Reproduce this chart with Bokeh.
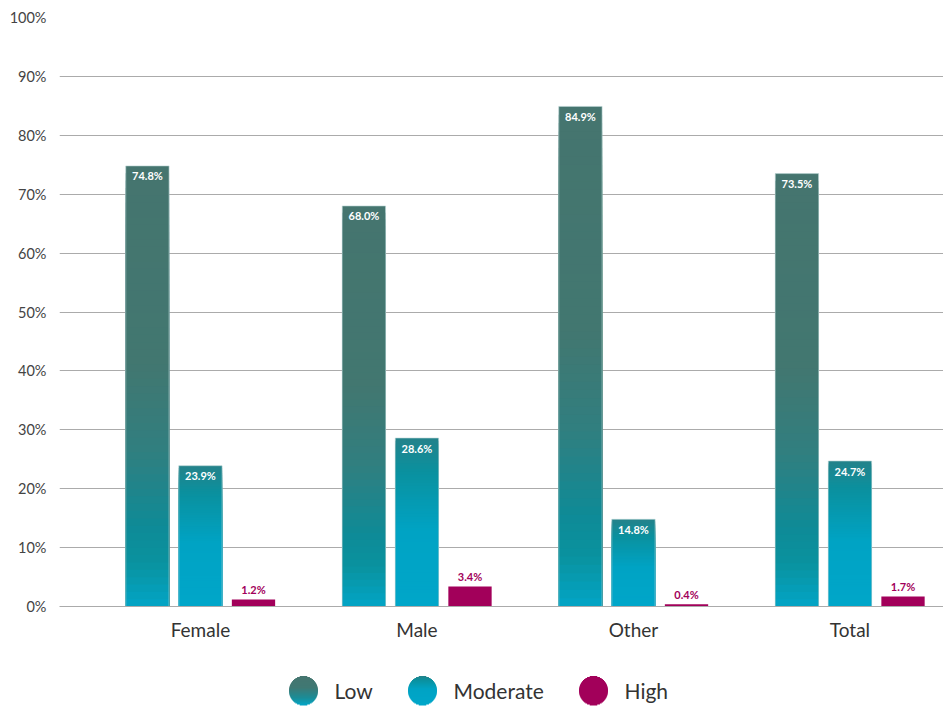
import math
from bokeh.plotting import figure
from bokeh.layouts import column
from bokeh.models import Range1d, FixedTicker, ColumnDataSource
from bokeh.core.properties import value
from bokeh.embed import file_html
from bokeh.resources import INLINE

# ---- data -------------------------------------------------------------
categories = ["Female", "Male", "Other", "Total"]
low = [74.8, 68.0, 84.9, 73.5]
moderate = [23.9, 28.6, 14.8, 24.7]
high = [1.2, 3.4, 0.4, 1.7]
series_names = ["Low", "Moderate", "High"]
y_ticks = [0, 10, 20, 30, 40, 50, 60, 70, 80, 90, 100]

FONT = "Lato"

# gradient stops (fraction of bar height from bottom, colour)
LOW_STOPS = [(0.0, "#02A5C6"), (0.10, "#0A929F"), (0.18, "#0E8B97"),
             (0.35, "#307F80"), (0.55, "#427770"), (1.0, "#45756F")]
MOD_STOPS = [(0.0, "#00A6C9"), (0.45, "#00A3C4"), (0.80, "#0A919F"),
             (1.0, "#24828A")]
HIGH_STOPS = [(0.0, "#A2005A"), (1.0, "#A2005A")]


def hex2rgb(h):
    h = h.lstrip("#")
    return tuple(int(h[i:i + 2], 16) for i in (0, 2, 4))


def interp(stops, t):
    for (t0, c0), (t1, c1) in zip(stops, stops[1:]):
        if t0 <= t <= t1:
            f = 0 if t1 == t0 else (t - t0) / (t1 - t0)
            a, b = hex2rgb(c0), hex2rgb(c1)
            return "#%02x%02x%02x" % tuple(round(a[i] + (b[i] - a[i]) * f) for i in range(3))
    return stops[-1][1]


# ---- main chart -------------------------------------------------------
p = figure(width=943, height=660, output_backend="svg", toolbar_location=None,
           x_range=Range1d(-0.651, 3.432), y_range=Range1d(0, 100),
           min_border_left=59, min_border_right=0, min_border_top=17,
           min_border_bottom=54)
p.outline_line_color = None
p.background_fill_color = "white"

p.ygrid.ticker = FixedTicker(ticks=y_ticks)
p.ygrid.grid_line_color = "#ABABAB"
p.ygrid.grid_line_width = 1
p.xgrid.grid_line_color = None

p.yaxis.ticker = FixedTicker(ticks=y_ticks)
p.yaxis.major_label_overrides = {t: f"{t}%" for t in y_ticks}
p.yaxis.axis_line_color = None
p.yaxis.major_tick_line_color = None
p.yaxis.minor_tick_line_color = None
p.yaxis.major_label_text_font = FONT
p.yaxis.major_label_text_font_size = "14.5px"
p.yaxis.major_label_text_color = "#444444"
p.yaxis.major_label_standoff = 7

p.xaxis.ticker = FixedTicker(ticks=list(range(len(categories))))
p.xaxis.major_label_overrides = {i: c for i, c in enumerate(categories)}
p.xaxis.axis_line_color = "#ABABAB"
p.xaxis.major_tick_line_color = None
p.xaxis.minor_tick_line_color = None
p.xaxis.major_label_text_font = FONT
p.xaxis.major_label_text_font_size = "19px"
p.xaxis.major_label_text_color = "#333333"
p.xaxis.major_label_standoff = 5

BAR_W = 0.2
OFFSETS = [-0.245, 0.0, 0.245]
N_SEG = 60

for series, stops, off in ((low, LOW_STOPS, OFFSETS[0]),
                           (moderate, MOD_STOPS, OFFSETS[1]),
                           (high, HIGH_STOPS, OFFSETS[2])):
    # every slice starts at the baseline; taller (upper-colour) slices are
    # painted first so the shorter ones overlay them without seams
    seg = dict(left=[], right=[], top=[], color=[])
    n = N_SEG if stops is not HIGH_STOPS else 1
    for k in range(n, 0, -1):
        for i, v in enumerate(series):
            seg["left"].append(i + off - BAR_W / 2)
            seg["right"].append(i + off + BAR_W / 2)
            seg["top"].append(v * k / n)
            seg["color"].append(interp(stops, (k - 0.5) / n))
    p.quad(source=ColumnDataSource(seg), left="left", right="right",
           bottom=0, top="top", fill_color="color", line_color=None)
    if stops is not HIGH_STOPS:
        # thin light edge around each bar
        p.quad(left=[i + off - BAR_W / 2 for i in range(len(series))],
               right=[i + off + BAR_W / 2 for i in range(len(series))],
               bottom=[0] * len(series), top=series,
               fill_color=None, line_color="#B9D3D3", line_width=1, line_alpha=0.6)

# value labels
lab_low = ColumnDataSource(dict(x=[i + OFFSETS[0] for i in range(4)], y=low,
                                t=[f"{v:.1f}%" for v in low]))
lab_mod = ColumnDataSource(dict(x=[i + OFFSETS[1] for i in range(4)], y=moderate,
                                t=[f"{v:.1f}%" for v in moderate]))
lab_high = ColumnDataSource(dict(x=[i + OFFSETS[2] for i in range(4)], y=high,
                                 t=[f"{v:.1f}%" for v in high]))
for src in (lab_low, lab_mod):
    p.text(x="x", y="y", text="t", source=src, text_color="white",
           text_font=value(FONT), text_font_style="bold", text_font_size="11px",
           text_align="center", text_baseline="middle", y_offset=10)
p.text(x="x", y="y", text="t", source=lab_high, text_color="#A2005A",
       text_font=value(FONT), text_font_style="bold", text_font_size="11px",
       text_align="center", text_baseline="middle", y_offset=-10)

# ---- legend -----------------------------------------------------------
# the column aligns this frame with the chart frame (x 59..943), so the
# x range is expressed in page pixels
lg = figure(width=943, height=47, output_backend="svg", toolbar_location=None,
            x_range=Range1d(59, 943), y_range=Range1d(47, 0),
            x_axis_location=None, y_axis_location=None,
            min_border=0, outline_line_color=None)
lg.grid.visible = False

legend_x = [303, 422, 593]
legend_y = 30
R = 14.5
legend_stops = [
    [(0.0, "#02A5C6"), (0.25, "#1A8D97"), (0.6, "#3F7873"), (1.0, "#45756F")],
    [(0.0, "#00A6C9"), (0.55, "#00A3C4"), (0.85, "#0A919F"), (1.0, "#24828A")],
    [(0.0, "#A2005A"), (1.0, "#A2005A")],
]
for cx, stops, name in zip(legend_x, legend_stops, series_names):
    strips = dict(left=[], right=[], top=[], bottom=[], color=[])
    steps = 29
    for j in range(steps):
        y0 = legend_y - R + j * (2 * R / steps)
        y1 = y0 + 2 * R / steps
        ym = (y0 + y1) / 2
        half = math.sqrt(max(R * R - (ym - legend_y) ** 2, 0))
        strips["left"].append(cx - half)
        strips["right"].append(cx + half)
        strips["top"].append(y0)
        strips["bottom"].append(y1 + 0.4)
        strips["color"].append(interp(stops, 1 - (j + 0.5) / steps))
    lg.quad(source=ColumnDataSource(strips), left="left", right="right",
            top="top", bottom="bottom", fill_color="color", line_color=None)
    lg.text(x=[cx + 31], y=[legend_y], text=[name], text_font=value(FONT),
            text_font_size="21px", text_color="#333333", text_baseline="middle",
            text_align="left")

layout = column(p, lg, spacing=0)
open("out.html", "w").write(file_html(layout, INLINE))
